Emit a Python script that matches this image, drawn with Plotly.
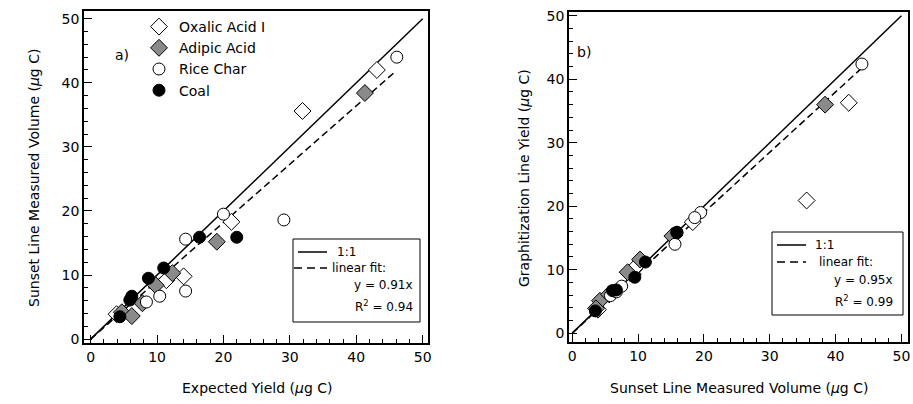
import plotly.graph_objects as go

W, H = 913, 404

# ---------------- data (panel a: expected yield vs Sunset measured) ----------------
a_oxalic_x = [3.9, 11.4, 14.0, 21.2, 31.9, 43.1]
a_oxalic_y = [3.9, 9.2, 9.8, 18.3, 35.6, 42.0]
a_adipic_x = [4.7, 6.2, 7.8, 9.8, 12.3, 19.0, 41.3]
a_adipic_y = [4.2, 3.6, 5.6, 8.4, 10.3, 15.2, 38.4]
a_rice_x = [8.4, 10.4, 14.3, 14.3, 20.0, 29.1, 46.1]
a_rice_y = [5.8, 6.7, 7.5, 15.6, 19.5, 18.6, 44.0]
a_coal_x = [4.4, 5.9, 6.2, 8.7, 11.0, 16.4, 22.0]
a_coal_y = [3.5, 6.1, 6.7, 9.5, 11.1, 15.9, 15.9]
a_fit_slope = 0.91
a_fit_r2 = 0.94
a_fit_xmax = 46.0

# ---------------- data (panel b: Sunset measured vs graphitization yield) ----------------
b_oxalic_x = [3.9, 9.2, 9.8, 18.3, 35.6, 42.0]
b_oxalic_y = [3.7, 9.3, 10.6, 17.5, 20.9, 36.3]
b_adipic_x = [4.2, 3.6, 5.6, 8.4, 10.3, 15.2, 38.4]
b_adipic_y = [5.1, 3.9, 6.1, 9.6, 11.6, 15.3, 36.0]
b_rice_x = [5.8, 6.7, 7.5, 15.6, 19.5, 18.6, 44.0]
b_rice_y = [5.9, 6.5, 7.4, 14.0, 19.0, 18.2, 42.4]
b_coal_x = [3.5, 6.1, 6.7, 9.5, 11.1, 15.9, 15.9]
b_coal_y = [3.5, 6.7, 6.8, 8.8, 11.2, 15.8, 15.9]
b_fit_slope = 0.95
b_fit_r2 = 0.99
b_fit_xmax = 44.0

one_to_one = [0, 50]
ticks = [0, 10, 20, 30, 40, 50]
series_names = ["Oxalic Acid I", "Adipic Acid", "Rice Char", "Coal"]

FONT = "DejaVu Sans"
styles = [
    dict(symbol="diamond", size=13, color="white", line=dict(color="black", width=1)),
    dict(symbol="diamond", size=13, color="#8a8a8a", line=dict(color="black", width=1)),
    dict(symbol="circle", size=12, color="white", line=dict(color="black", width=1)),
    dict(symbol="circle", size=12, color="black", line=dict(color="black", width=1)),
]


def px(x):
    return x / W


def py(y):
    return 1 - y / H


fig = go.Figure()

# reference lines (1:1 and linear fits)
fig.add_trace(go.Scatter(x=one_to_one, y=one_to_one, mode="lines", line=dict(color="black", width=1.5),
                         name="1:1", showlegend=False, xaxis="x", yaxis="y"))
fig.add_trace(go.Scatter(x=[0, a_fit_xmax], y=[0, a_fit_slope * a_fit_xmax], mode="lines",
                         line=dict(color="black", width=1.5, dash="7px,4px"),
                         name="linear fit", showlegend=False, xaxis="x", yaxis="y"))
fig.add_trace(go.Scatter(x=one_to_one, y=one_to_one, mode="lines", line=dict(color="black", width=1.5),
                         name="1:1", showlegend=False, xaxis="x2", yaxis="y2"))
fig.add_trace(go.Scatter(x=[0, b_fit_xmax], y=[0, b_fit_slope * b_fit_xmax], mode="lines",
                         line=dict(color="black", width=1.5, dash="7px,4px"),
                         name="linear fit", showlegend=False, xaxis="x2", yaxis="y2"))

a_sets = [(a_oxalic_x, a_oxalic_y), (a_adipic_x, a_adipic_y), (a_rice_x, a_rice_y), (a_coal_x, a_coal_y)]
b_sets = [(b_oxalic_x, b_oxalic_y), (b_adipic_x, b_adipic_y), (b_rice_x, b_rice_y), (b_coal_x, b_coal_y)]

for i, ((xs, ys), name) in enumerate(zip(a_sets, series_names)):
    fig.add_trace(go.Scatter(x=xs, y=ys, mode="markers", marker=styles[i], name=name,
                             legendgroup=name, xaxis="x", yaxis="y"))
for i, ((xs, ys), name) in enumerate(zip(b_sets, series_names)):
    fig.add_trace(go.Scatter(x=xs, y=ys, mode="markers", marker=styles[i], name=name,
                             legendgroup=name, showlegend=False, xaxis="x2", yaxis="y2"))

axis_common = dict(
    showline=True, linecolor="black", linewidth=1.5, mirror=True,
    ticks="inside", ticklen=8, tickwidth=1, tickcolor="black",
    tickvals=ticks, showgrid=False, zeroline=False, automargin=False,
    tickfont=dict(family=FONT, size=14, color="black"),
    minor=dict(dtick=2, ticks="inside", ticklen=4, tickwidth=1, tickcolor="black", showgrid=False),
)

fig.update_layout(
    width=W, height=H,
    margin=dict(l=0, r=0, t=0, b=0, pad=0),
    paper_bgcolor="white", plot_bgcolor="white",
    font=dict(family=FONT, size=14, color="black"),
    xaxis=dict(domain=[px(84), px(428)], range=[-1.0, 50.8], anchor="y", **axis_common),
    yaxis=dict(domain=[py(343), py(11)], range=[-0.6, 51.2], anchor="x", **axis_common),
    xaxis2=dict(domain=[px(569), px(908)], range=[-0.5, 51.0], anchor="y2", **axis_common),
    yaxis2=dict(domain=[py(342), py(12)], range=[-1.4, 50.6], anchor="x2", **axis_common),
    legend=dict(x=px(139), y=py(11), xanchor="left", yanchor="top", bgcolor="rgba(0,0,0,0)",
                font=dict(family=FONT, size=14), borderwidth=0, tracegroupgap=0,
                traceorder="grouped"),
    showlegend=True,
)


def ann(text, x, y, size=14, xanchor="center", yanchor="middle", **kw):
    fig.add_annotation(text=text, x=px(x), y=py(y), xref="paper", yref="paper", showarrow=False,
                       xanchor=xanchor, yanchor=yanchor,
                       font=dict(family=FONT, size=size, color="black"), **kw)


def line_key(box, rows, fit_text_right, slope, r2):
    x0, x1, y0, y1 = box
    fig.add_shape(type="rect", xref="paper", yref="paper", x0=px(x0), x1=px(x1), y0=py(y1), y1=py(y0),
                  line=dict(color="black", width=1), fillcolor="white", layer="below")
    (sx0, sx1, ry1, tx1), (dx0, dx1, ry2, tx2), (ry3, ry4) = rows
    fig.add_shape(type="line", xref="paper", yref="paper", x0=px(sx0), x1=px(sx1), y0=py(ry1), y1=py(ry1),
                  line=dict(color="black", width=1.5))
    fig.add_shape(type="line", xref="paper", yref="paper", x0=px(dx0), x1=px(dx1), y0=py(ry2), y1=py(ry2),
                  line=dict(color="black", width=1.5, dash="8px,5px"))
    ann("1:1", tx1, ry1, size=12, xanchor="left")
    ann("linear fit:", tx2, ry2, size=12, xanchor="left")
    ann(f"y = {slope:.2f}x", fit_text_right, ry3, size=12, xanchor="right")
    ann(f"R<sup>2</sup> = {r2:.2f}", fit_text_right, ry4, size=12, xanchor="right")


line_key((293, 420, 239, 322), ((298, 327, 252, 335), (294, 327, 268, 330), (285, 306)), 415,
         a_fit_slope, a_fit_r2)
line_key((772, 903, 232, 315), ((777, 806, 245, 813), (777, 806, 262, 817), (280, 301)), 895,
         b_fit_slope, b_fit_r2)

# panel labels
ann("a)", 122, 55)
ann("b)", 584, 52)

# axis titles
ann("Expected Yield (<i>μ</i>g C)", 257, 388)
ann("Sunset Line Measured Volume (<i>μ</i>g C)", 34, 178, textangle=-90)
ann("Sunset Line Measured Volume (<i>μ</i>g C)", 739, 388)
ann("Graphitization Line Yield (<i>μ</i>g C)", 524, 178, textangle=-90)

fig.write_html("out.html", config={"displayModeBar": False},
               post_script="document.body.style.margin='0';document.body.style.padding='0';")
